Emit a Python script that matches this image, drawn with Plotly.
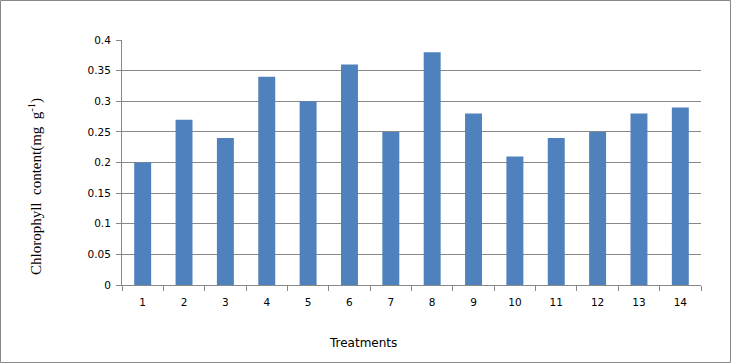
import plotly.graph_objects as go

treatments = [str(i) for i in range(1, 15)]
chlorophyll = [0.20, 0.27, 0.24, 0.34, 0.30, 0.36, 0.25, 0.38, 0.28, 0.21, 0.24, 0.25, 0.28, 0.29]
y_ticks = [0, 0.05, 0.1, 0.15, 0.2, 0.25, 0.3, 0.35, 0.4]
y_tick_labels = ["0", "0.05", "0.1", "0.15", "0.2", "0.25", "0.3", "0.35", "0.4"]
x_title = "Treatments"
y_title = "Chlorophyll&nbsp; content(mg&nbsp; g<sup>-1</sup>)"

fig = go.Figure(go.Bar(x=treatments, y=chlorophyll, marker=dict(color="#4F81BD", line_width=0), width=0.41))

PW, PH = 579, 245
fig.update_layout(
    width=732, height=363,
    margin=dict(l=122, r=31, t=40, b=78),
    paper_bgcolor="white", plot_bgcolor="white",
    showlegend=False,
    font=dict(family="DejaVu Sans", size=10.5, color="black"),
    shapes=[dict(type="rect", xref="paper", yref="paper", x0=-121.5/PW, x1=1+29.5/PW, y0=-77.5/PH, y1=1+39.5/PH,
                 line=dict(color="#888888", width=1), fillcolor="rgba(0,0,0,0)")],
    annotations=[
        dict(text=x_title, xref="paper", yref="paper", x=(363-122)/PW, y=(285-343)/PH,
             xanchor="center", yanchor="middle", showarrow=False,
             font=dict(family="DejaVu Sans", size=12, color="black")),
        dict(text=y_title, xref="paper", yref="paper", x=(35-122)/PW, y=(285-187)/PH,
             xanchor="center", yanchor="middle", showarrow=False, textangle=-90,
             font=dict(family="Liberation Serif", size=15, color="black")),
    ],
)
fig.update_xaxes(
    type="category", showgrid=False, showline=True, linecolor="#888888", linewidth=1,
    ticks="outside", ticklen=5, tickcolor="#888888", tickson="boundaries",
    tickfont=dict(family="DejaVu Sans", size=10.5), ticklabelstandoff=7,
)
fig.update_yaxes(
    range=[0, 0.4], tickvals=y_ticks, ticktext=y_tick_labels,
    showgrid=True, gridcolor="#888888", gridwidth=1, zeroline=False,
    showline=True, linecolor="#888888", linewidth=1,
    ticks="outside", ticklen=5, tickcolor="#888888",
    tickfont=dict(family="DejaVu Sans", size=10.5), ticklabelstandoff=3,
)

fig.write_html("out.html", config={"displayModeBar": False},
               post_script="document.body.style.margin='0px';document.body.style.overflow='hidden';")
